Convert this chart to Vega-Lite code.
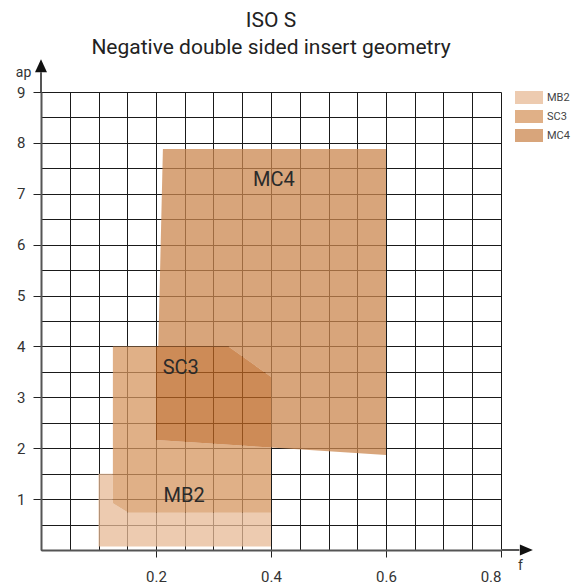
{
  "$schema": "https://vega.github.io/schema/vega-lite/v6.json",
  "width": 460,
  "height": 458,
  "autosize": "none",
  "padding": {"left": 41, "top": 92, "right": 77, "bottom": 37},
  "config": {"font": "Roboto", "view": {"stroke": null}},
  "title": {
    "text": "ISO S",
    "subtitle": "Negative double sided insert geometry",
    "fontSize": 21,
    "subtitleFontSize": 21,
    "fontWeight": "normal",
    "font": "Roboto",
    "subtitleFont": "Roboto",
    "color": "#222",
    "subtitleColor": "#222",
    "anchor": "middle",
    "frame": "group",
    "offset": 1,
    "subtitlePadding": 6
  },
  "datasets": {
    "shapes": [
      {"region": "MB2", "i": 1, "x": 0.1, "y": 0.07},
      {"region": "MB2", "i": 2, "x": 0.4, "y": 0.07},
      {"region": "MB2", "i": 3, "x": 0.4, "y": 0.733},
      {"region": "MB2", "i": 4, "x": 0.152, "y": 0.733},
      {"region": "MB2", "i": 5, "x": 0.125, "y": 0.917},
      {"region": "MB2", "i": 6, "x": 0.125, "y": 1.5},
      {"region": "MB2", "i": 7, "x": 0.1, "y": 1.5},
      {"region": "SC3", "i": 1, "x": 0.125, "y": 4.0},
      {"region": "SC3", "i": 2, "x": 0.2, "y": 4.0},
      {"region": "SC3", "i": 3, "x": 0.2, "y": 2.16},
      {"region": "SC3", "i": 4, "x": 0.4, "y": 2.013},
      {"region": "SC3", "i": 5, "x": 0.4, "y": 0.733},
      {"region": "SC3", "i": 6, "x": 0.152, "y": 0.733},
      {"region": "SC3", "i": 7, "x": 0.125, "y": 0.917},
      {"region": "MC4", "i": 1, "x": 0.212, "y": 7.88},
      {"region": "MC4", "i": 2, "x": 0.6, "y": 7.88},
      {"region": "MC4", "i": 3, "x": 0.6, "y": 1.866},
      {"region": "MC4", "i": 4, "x": 0.4, "y": 2.013},
      {"region": "MC4", "i": 5, "x": 0.4, "y": 3.405},
      {"region": "MC4", "i": 6, "x": 0.326, "y": 4.0},
      {"region": "MC4", "i": 7, "x": 0.204, "y": 4.0},
      {"region": "SC3 core", "i": 1, "x": 0.2, "y": 4.0},
      {"region": "SC3 core", "i": 2, "x": 0.326, "y": 4.0},
      {"region": "SC3 core", "i": 3, "x": 0.4, "y": 3.405},
      {"region": "SC3 core", "i": 4, "x": 0.4, "y": 2.013},
      {"region": "SC3 core", "i": 5, "x": 0.2, "y": 2.16}
    ],
    "labels": [
      {"label": "MC4", "x": 0.405, "y": 7.27},
      {"label": "SC3", "x": 0.243, "y": 3.58},
      {"label": "MB2", "x": 0.249, "y": 1.07}
    ],
    "axisext": [
      {"x": 0, "x2": 0, "y": 9, "y2": 9.39},
      {"x": 0.8, "x2": 0.832, "y": 0, "y2": 0}
    ],
    "arrows": [
      {"dir": "up", "x": 0, "y": 9.514},
      {"dir": "right", "x": 0.8441, "y": 0}
    ]
  },
  "layer": [
    {
      "data": {"name": "shapes"},
      "mark": {"type": "line", "strokeWidth": 0, "fillOpacity": 0.75, "interpolate": "linear"},
      "encoding": {
        "x": {
          "field": "x", "type": "quantitative",
          "scale": {"domain": [0, 0.8], "nice": false, "zero": false},
          "axis": {
            "values": [0, 0.05, 0.1, 0.15, 0.2, 0.25, 0.3, 0.35, 0.4, 0.45, 0.5, 0.55, 0.6, 0.65, 0.7, 0.75, 0.8],
            "tickCount": 100,
            "grid": true, "gridColor": "#1a1a1a", "gridWidth": 1, "gridOpacity": 1,
            "labelExpr": "(datum.value > 0.01 && abs(datum.value*5 - round(datum.value*5)) < 0.001) ? format(datum.value, '.1f') : ''",
            "labelOverlap": false, "labelFontSize": 15, "labelColor": "#333", "labelPadding": 12, "labelFont": "Roboto",
            "tickSize": 7, "tickColor": "#222", "tickWidth": 1,
            "tickOpacity": {"condition": {"test": "datum.value > 0.01 && abs(datum.value*5 - round(datum.value*5)) < 0.001", "value": 1}, "value": 0},
            "domainColor": "#555", "domainWidth": 2,
            "title": "f", "titleFontSize": 14, "titleFontWeight": "normal", "titleColor": "#333",
            "titleX": 479, "titleY": 19, "titleAlign": "center", "titleBaseline": "alphabetic", "titleAnchor": null
          }
        },
        "y": {
          "field": "y", "type": "quantitative",
          "scale": {"domain": [0, 9], "nice": false, "zero": false},
          "axis": {
            "values": [0, 0.5, 1, 1.5, 2, 2.5, 3, 3.5, 4, 4.5, 5, 5.5, 6, 6.5, 7, 7.5, 8, 8.5, 9],
            "tickCount": 100,
            "grid": true, "gridColor": "#1a1a1a", "gridWidth": 1, "gridOpacity": 1,
            "labelExpr": "(datum.value > 0.01 && abs(datum.value - round(datum.value)) < 0.001) ? format(datum.value, 'd') : ''",
            "labelOverlap": false, "labelFontSize": 15, "labelColor": "#333", "labelPadding": 8, "labelFont": "Roboto",
            "tickSize": 8, "tickColor": "#222", "tickWidth": 1,
            "tickOpacity": {"condition": {"test": "datum.value > 0.01 && abs(datum.value - round(datum.value)) < 0.001", "value": 1}, "value": 0},
            "domainColor": "#555", "domainWidth": 2,
            "title": "ap", "titleFontSize": 14, "titleFontWeight": "normal", "titleColor": "#333",
            "titleX": -18, "titleY": -16, "titleAngle": 0, "titleAlign": "center", "titleBaseline": "alphabetic", "titleAnchor": null
          }
        },
        "fill": {
          "field": "region", "type": "nominal",
          "scale": {"domain": ["MB2", "SC3", "MC4", "SC3 core"], "range": ["#E7BA96", "#D6965F", "#CB874F", "#BC641F"]},
          "legend": {
            "values": ["MB2", "SC3", "MC4"],
            "title": null,
            "orient": "none", "legendX": 481.5, "legendY": -1,
            "padding": 0,
            "symbolType": "M-2.15,-1H2.15V1H-2.15Z",
            "symbolSize": 169,
            "symbolOpacity": 0.75,
            "symbolStrokeWidth": 0,
            "rowPadding": 6,
            "labelOffset": 11.5,
            "labelFontSize": 11, "labelColor": "#444", "labelFont": "Roboto"
          }
        },
        "order": {"field": "i", "type": "quantitative"}
      }
    },
    {
      "data": {"name": "labels"},
      "mark": {"type": "text", "fontSize": 20, "color": "#2a2a2a", "align": "center", "baseline": "middle", "font": "Roboto"},
      "encoding": {
        "x": {"field": "x", "type": "quantitative"},
        "y": {"field": "y", "type": "quantitative"},
        "text": {"field": "label"}
      }
    },
    {
      "data": {"name": "axisext"},
      "mark": {"type": "rule", "color": "#555", "strokeWidth": 2},
      "encoding": {
        "x": {"field": "x", "type": "quantitative"},
        "x2": {"field": "x2"},
        "y": {"field": "y", "type": "quantitative"},
        "y2": {"field": "y2"}
      }
    },
    {
      "data": {"name": "arrows"},
      "mark": {"type": "point", "filled": true, "color": "#111", "opacity": 1, "size": 169},
      "encoding": {
        "x": {"field": "x", "type": "quantitative"},
        "y": {"field": "y", "type": "quantitative"},
        "shape": {
          "field": "dir", "type": "nominal",
          "scale": {"domain": ["up", "right"], "range": ["M0,-1L0.92,1L-0.92,1Z", "M1,0L-1,0.85L-1,-0.85Z"]},
          "legend": null
        }
      }
    }
  ]
}
